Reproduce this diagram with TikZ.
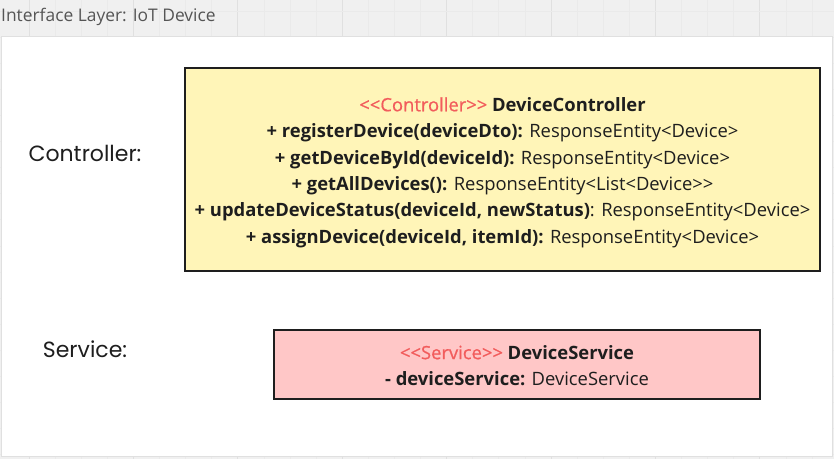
\documentclass[tikz,border=0pt]{standalone}
\usepackage{fontspec}
\setmainfont{Open Sans}
\newfontfamily\labelfont{Poppins}
\newfontfamily\stereofont{Open Sans}[FakeBold=0.7]
\definecolor{stereo}{HTML}{F25C5C}
\definecolor{ctrlfill}{HTML}{FFF5B8}
\definecolor{svcfill}{HTML}{FFC7C7}
\definecolor{ink}{HTML}{1E1E1E}
\definecolor{bggray}{HTML}{F0F0F0}
\definecolor{gridgray}{HTML}{EAEAEA}
\definecolor{gridmajor}{HTML}{E0E0E0}
\definecolor{titlegray}{HTML}{555555}
\tikzset{
  umlbox/.style={draw=ink, line width=2pt, rectangle, inner sep=0pt},
  umltext/.style={align=center, text=ink, font=\fontsize{18.4}{26.4}\selectfont, inner sep=0pt},
  sidelabel/.style={font=\labelfont\fontsize{22}{24}\selectfont, text=ink, inner sep=0pt},
  gridline/.style={draw=gridgray, line width=0.8pt},
  gridmajorline/.style={draw=gridmajor, line width=1pt}
}
\newcommand{\stereotype}[1]{\textcolor{stereo}{\stereofont<\kern0pt<#1>\kern0pt>}}
\begin{document}
\begin{tikzpicture}[x=1pt,y=-1pt]
\useasboundingbox (0,0) rectangle (834,459);
\fill[bggray] (0,0) rectangle (834,459);
\foreach \i in {0,...,31} {\draw[gridline] (29+26.1*\i,0) -- ++(0,459);}
\foreach \i in {0,...,7} {\draw[gridmajorline] (29+104.4*\i,0) -- ++(0,459);}
\foreach \j in {0,...,17} {\draw[gridline] (0,11+26.1*\j) -- ++(834,0);}
\node[anchor=west, text=titlegray, font=\fontsize{17.4}{20}\selectfont, inner sep=0pt] (title) at (1,17) {Interface Layer: IoT Device};
\fill[white, draw=gridmajor, line width=1pt] (1.5,36) rectangle (832,456);
\node[sidelabel] (ctrllabel) at (85,153) {Controller:};
\node[sidelabel] (svclabel) at (85,349) {Service:};
\node[umlbox, fill=ctrlfill, minimum width=635pt, minimum height=203pt] (ctrl) at (502.5,169.5) {};
\node[umltext] (ctrltext) at (502.5,172.5) {%
\stereotype{Controller} \textbf{DeviceController}\\
\textbf{+ registerDevice(deviceDto):} ResponseEntity<Device>\\
\textbf{+ getDeviceById(deviceId):} ResponseEntity<Device>\\
\textbf{+ getAllDevices():} ResponseEntity<List<Device>\kern0pt>\\
\textbf{+ updateDeviceStatus(deviceId, newStatus)}: ResponseEntity<Device>\\
\textbf{+ assignDevice(deviceId, itemId):} ResponseEntity<Device>};
\node[umlbox, fill=svcfill, minimum width=486pt, minimum height=69pt] (svc) at (517,364.5) {};
\node[umltext] (svctext) at (517,365.5) {%
\stereotype{Service} \textbf{DeviceService}\\
\textbf{- deviceService:} DeviceService};
\end{tikzpicture}
\end{document}
